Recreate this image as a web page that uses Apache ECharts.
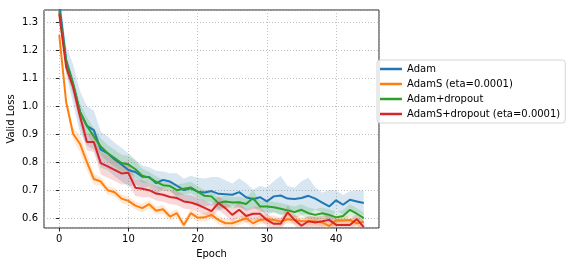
<!DOCTYPE html>
<html>
<head>
<meta charset="utf-8">
<script src="https://cdn.jsdelivr.net/npm/echarts@6/dist/echarts.min.js"></script>
<style>
  html, body { margin: 0; padding: 0; background: #fff; }
  #chart { width: 572px; height: 266px; }
</style>
</head>
<body>
<div id="chart"></div>
<script>
// mean valid loss per epoch
const adam = [1.37, 1.165, 1.08, 0.98, 0.93, 0.915, 0.845, 0.832, 0.81, 0.792,
  0.772, 0.765, 0.748, 0.747, 0.725, 0.737, 0.731, 0.716, 0.701, 0.707,
  0.695, 0.692, 0.697, 0.687, 0.686, 0.684, 0.693, 0.675, 0.668, 0.675,
  0.66, 0.678, 0.681, 0.67, 0.669, 0.672, 0.68, 0.67, 0.656, 0.642,
  0.664, 0.648, 0.666, 0.66, 0.654];
const adamS = [1.255, 1.015, 0.902, 0.866, 0.80, 0.74, 0.731, 0.70, 0.693, 0.67,
  0.662, 0.645, 0.636, 0.65, 0.627, 0.632, 0.606, 0.618, 0.576, 0.618,
  0.602, 0.603, 0.612, 0.594, 0.582, 0.582, 0.591, 0.60, 0.582, 0.594,
  0.597, 0.594, 0.588, 0.596, 0.594, 0.59, 0.589, 0.589, 0.585, 0.572,
  0.593, 0.592, 0.594, 0.582, 0.587];
const adamDrop = [1.34, 1.16, 1.08, 0.98, 0.93, 0.892, 0.856, 0.832, 0.815, 0.797,
  0.792, 0.775, 0.752, 0.745, 0.73, 0.718, 0.715, 0.70, 0.705, 0.71,
  0.695, 0.68, 0.678, 0.654, 0.66, 0.656, 0.657, 0.651, 0.672, 0.642,
  0.642, 0.639, 0.634, 0.628, 0.622, 0.63, 0.618, 0.612, 0.618, 0.612,
  0.603, 0.608, 0.63, 0.616, 0.60];
const adamSDrop = [1.33, 1.14, 1.068, 0.964, 0.872, 0.872, 0.797, 0.785, 0.773, 0.76,
  0.762, 0.709, 0.705, 0.70, 0.688, 0.684, 0.676, 0.672, 0.66, 0.656,
  0.648, 0.637, 0.625, 0.654, 0.636, 0.612, 0.63, 0.608, 0.616, 0.616,
  0.594, 0.58, 0.58, 0.621, 0.594, 0.573, 0.589, 0.585, 0.589, 0.594,
  0.576, 0.576, 0.576, 0.597, 0.568];

// half-width of the shaded bands
const adamSpread = [0.03, 0.05, 0.07, 0.075, 0.07, 0.07, 0.065, 0.06, 0.06, 0.06,
  0.06, 0.045, 0.04, 0.035, 0.045, 0.03, 0.03, 0.045, 0.04, 0.045,
  0.05, 0.05, 0.05, 0.06, 0.05, 0.04, 0.05, 0.05, 0.035, 0.04,
  0.05, 0.055, 0.07, 0.045, 0.04, 0.06, 0.065, 0.04, 0.035, 0.06,
  0.035, 0.035, 0.03, 0.04, 0.045];
const adamSSpread = [0.01, 0.015, 0.02, 0.03, 0.03, 0.02, 0.015, 0.015, 0.015, 0.015,
  0.015, 0.015, 0.015, 0.015, 0.015, 0.015, 0.015, 0.015, 0.015, 0.015,
  0.015, 0.015, 0.015, 0.015, 0.015, 0.015, 0.015, 0.015, 0.015, 0.015,
  0.015, 0.015, 0.015, 0.015, 0.015, 0.015, 0.015, 0.015, 0.015, 0.015,
  0.015, 0.015, 0.015, 0.015, 0.015];
const adamDropSpread = [0.02, 0.02, 0.025, 0.03, 0.03, 0.03, 0.03, 0.03, 0.03, 0.03,
  0.03, 0.03, 0.025, 0.02, 0.02, 0.02, 0.02, 0.02, 0.02, 0.02,
  0.02, 0.02, 0.02, 0.02, 0.02, 0.02, 0.02, 0.02, 0.03, 0.02,
  0.02, 0.02, 0.02, 0.02, 0.02, 0.02, 0.02, 0.02, 0.02, 0.02,
  0.02, 0.02, 0.02, 0.02, 0.02];
const adamSDropSpread = [0.02, 0.02, 0.025, 0.03, 0.03, 0.035, 0.04, 0.04, 0.04, 0.04,
  0.04, 0.03, 0.03, 0.025, 0.025, 0.025, 0.025, 0.025, 0.025, 0.025,
  0.025, 0.025, 0.025, 0.025, 0.025, 0.025, 0.025, 0.025, 0.025, 0.025,
  0.02, 0.02, 0.02, 0.025, 0.02, 0.02, 0.02, 0.02, 0.02, 0.02,
  0.02, 0.02, 0.02, 0.02, 0.02];

const names = ['Adam', 'AdamS (eta=0.0001)', 'Adam+dropout', 'AdamS+dropout (eta=0.0001)'];
const colors = ['#1f77b4', '#ff7f0e', '#2ca02c', '#d62728'];
const means = [adam, adamS, adamDrop, adamSDrop];
const spreads = [adamSpread, adamSSpread, adamDropSpread, adamSDropSpread];

const epochs = adam.map((_, i) => i);
const font = 'DejaVu Sans';

const hexAlpha = (hex, a) => {
  const n = parseInt(hex.slice(1), 16);
  return `rgba(${(n >> 16) & 255},${(n >> 8) & 255},${n & 255},${a})`;
};

// band = polygon through upper points then lower points, drawn once per series
const bandSeries = (k) => {
  const m = means[k];
  const s = spreads[k];
  const rows = m.map((v, i) => [epochs[i], v - s[i], v + s[i]]);
  return {
    type: 'custom', silent: true, clip: true, z: 1 + k,
    data: rows,
    encode: { x: 0, y: [1, 2] },
    renderItem: (params, api) => {
      if (params.dataIndex !== 0) return null;
      const top = rows.map((r) => api.coord([r[0], r[2]]));
      const bottom = rows.map((r) => api.coord([r[0], r[1]])).reverse();
      return {
        type: 'polygon',
        shape: { points: top.concat(bottom) },
        style: { fill: hexAlpha(colors[k], 0.18) },
      };
    },
  };
};

const series = [];
means.forEach((m, k) => series.push(bandSeries(k)));
means.forEach((m, k) => {
  series.push({
    name: names[k], type: 'line', symbol: 'none', z: 10 + k,
    data: m.map((v, i) => [epochs[i], v]),
    lineStyle: { color: colors[k], width: 2 }, itemStyle: { color: colors[k] },
  });
});

const chart = echarts.init(document.getElementById('chart'), null, { renderer: 'canvas' });
chart.setOption({
  animation: false,
  backgroundColor: '#fff',
  grid: {
    left: 44, right: 193, top: 10, bottom: 38, outerBoundsMode: 'none', containLabel: false,
    show: true, borderColor: '#262626', borderWidth: 1, backgroundColor: 'transparent',
  },
  legend: {
    data: names.map((n, k) => ({ name: n, itemStyle: { color: colors[k] } })),
    orient: 'vertical', left: 377, top: 60,
    icon: 'rect', itemWidth: 22, itemHeight: 2.5, itemGap: 3,
    padding: [3, 5, 3, 3],
    borderColor: '#d6d6d6', borderWidth: 1, borderRadius: 3,
    backgroundColor: 'rgba(255,255,255,0.8)',
    textStyle: { fontFamily: font, fontSize: 10, color: '#000', lineHeight: 12 },
  },
  xAxis: {
    type: 'value', min: -2.2, max: 46.2, splitNumber: 5,
    name: 'Epoch', nameLocation: 'middle', nameGap: 21, nameMoveOverlap: false,
    nameTextStyle: { fontFamily: font, fontSize: 10, color: '#000' },
    axisLine: { show: false },
    axisTick: { show: true, length: 3.5, inside: false, lineStyle: { color: '#262626' } },
    axisLabel: { fontFamily: font, fontSize: 10, color: '#000', margin: 6, showMinLabel: false, showMaxLabel: false },
    splitLine: { show: true, lineStyle: { color: '#b0b0b0', width: 0.8, type: [1, 2] } },
  },
  yAxis: {
    type: 'value', min: 0.565, max: 1.344, splitNumber: 7,
    name: 'Valid Loss', nameLocation: 'middle', nameGap: 28, nameMoveOverlap: false,
    nameTextStyle: { fontFamily: font, fontSize: 10, color: '#000' },
    axisLine: { show: false },
    axisTick: { show: true, length: 3.5, inside: false, lineStyle: { color: '#262626' } },
    axisLabel: {
      fontFamily: font, fontSize: 10, color: '#000', margin: 6,
      showMinLabel: false, showMaxLabel: false,
      formatter: (v) => v.toFixed(1),
    },
    splitLine: { show: true, lineStyle: { color: '#b0b0b0', width: 0.8, type: [1, 2] } },
  },
  series,
});
</script>
</body>
</html>
